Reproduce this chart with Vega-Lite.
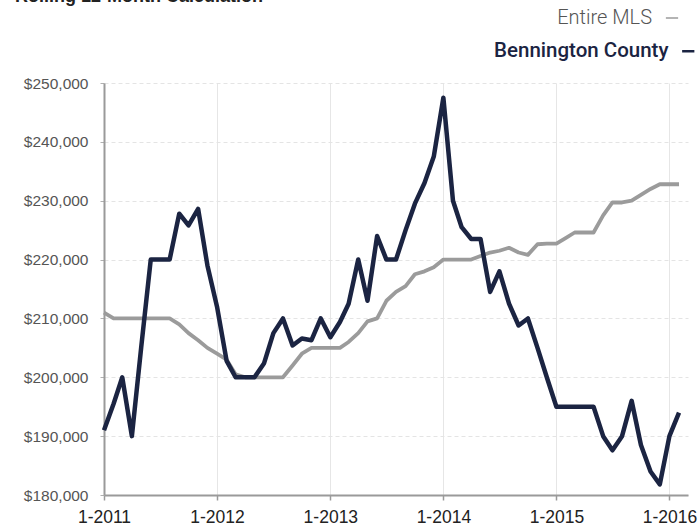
{
  "$schema": "https://vega.github.io/schema/vega-lite/v6.json",
  "width": 584,
  "height": 412,
  "autosize": {"type": "none"},
  "padding": {"left": 104, "top": 83, "right": 11, "bottom": 34},
  "background": "white",
  "title": {"text": "Rolling 12-Month Calculation", "anchor": "start", "frame": "group", "offset": 2, "dx": -89, "fontSize": 18, "fontWeight": "bold", "font": "Liberation Sans", "color": "#222"},
  "config": {"view": {"stroke": null}, "font": "Liberation Sans", "legend": {"padding": 0}},
  "data": {"values": [
    {"date": "2011/01/01", "series": "Entire MLS", "value": 211000},
    {"date": "2011/02/01", "series": "Entire MLS", "value": 210000},
    {"date": "2011/03/01", "series": "Entire MLS", "value": 210000},
    {"date": "2011/04/01", "series": "Entire MLS", "value": 210000},
    {"date": "2011/05/01", "series": "Entire MLS", "value": 210000},
    {"date": "2011/06/01", "series": "Entire MLS", "value": 210000},
    {"date": "2011/07/01", "series": "Entire MLS", "value": 210000},
    {"date": "2011/08/01", "series": "Entire MLS", "value": 210000},
    {"date": "2011/09/01", "series": "Entire MLS", "value": 209000},
    {"date": "2011/10/01", "series": "Entire MLS", "value": 207500},
    {"date": "2011/11/01", "series": "Entire MLS", "value": 206300},
    {"date": "2011/12/01", "series": "Entire MLS", "value": 205000},
    {"date": "2012/01/01", "series": "Entire MLS", "value": 204000},
    {"date": "2012/02/01", "series": "Entire MLS", "value": 203000},
    {"date": "2012/03/01", "series": "Entire MLS", "value": 200500},
    {"date": "2012/04/01", "series": "Entire MLS", "value": 200000},
    {"date": "2012/05/01", "series": "Entire MLS", "value": 200000},
    {"date": "2012/06/01", "series": "Entire MLS", "value": 200000},
    {"date": "2012/07/01", "series": "Entire MLS", "value": 200000},
    {"date": "2012/08/01", "series": "Entire MLS", "value": 200000},
    {"date": "2012/09/01", "series": "Entire MLS", "value": 202000},
    {"date": "2012/10/01", "series": "Entire MLS", "value": 204000},
    {"date": "2012/11/01", "series": "Entire MLS", "value": 205000},
    {"date": "2012/12/01", "series": "Entire MLS", "value": 205000},
    {"date": "2013/01/01", "series": "Entire MLS", "value": 205000},
    {"date": "2013/02/01", "series": "Entire MLS", "value": 205000},
    {"date": "2013/03/01", "series": "Entire MLS", "value": 206000},
    {"date": "2013/04/01", "series": "Entire MLS", "value": 207500},
    {"date": "2013/05/01", "series": "Entire MLS", "value": 209500},
    {"date": "2013/06/01", "series": "Entire MLS", "value": 210000},
    {"date": "2013/07/01", "series": "Entire MLS", "value": 213000},
    {"date": "2013/08/01", "series": "Entire MLS", "value": 214500},
    {"date": "2013/09/01", "series": "Entire MLS", "value": 215500},
    {"date": "2013/10/01", "series": "Entire MLS", "value": 217500},
    {"date": "2013/11/01", "series": "Entire MLS", "value": 218000},
    {"date": "2013/12/01", "series": "Entire MLS", "value": 218700},
    {"date": "2014/01/01", "series": "Entire MLS", "value": 220000},
    {"date": "2014/02/01", "series": "Entire MLS", "value": 220000},
    {"date": "2014/03/01", "series": "Entire MLS", "value": 220000},
    {"date": "2014/04/01", "series": "Entire MLS", "value": 220000},
    {"date": "2014/05/01", "series": "Entire MLS", "value": 220600},
    {"date": "2014/06/01", "series": "Entire MLS", "value": 221200},
    {"date": "2014/07/01", "series": "Entire MLS", "value": 221500},
    {"date": "2014/08/01", "series": "Entire MLS", "value": 222000},
    {"date": "2014/09/01", "series": "Entire MLS", "value": 221200},
    {"date": "2014/10/01", "series": "Entire MLS", "value": 220800},
    {"date": "2014/11/01", "series": "Entire MLS", "value": 222600},
    {"date": "2014/12/01", "series": "Entire MLS", "value": 222700},
    {"date": "2015/01/01", "series": "Entire MLS", "value": 222700},
    {"date": "2015/02/01", "series": "Entire MLS", "value": 223700},
    {"date": "2015/03/01", "series": "Entire MLS", "value": 224600},
    {"date": "2015/04/01", "series": "Entire MLS", "value": 224600},
    {"date": "2015/05/01", "series": "Entire MLS", "value": 224600},
    {"date": "2015/06/01", "series": "Entire MLS", "value": 227500},
    {"date": "2015/07/01", "series": "Entire MLS", "value": 229700},
    {"date": "2015/08/01", "series": "Entire MLS", "value": 229700},
    {"date": "2015/09/01", "series": "Entire MLS", "value": 230000},
    {"date": "2015/10/01", "series": "Entire MLS", "value": 231000},
    {"date": "2015/11/01", "series": "Entire MLS", "value": 232000},
    {"date": "2015/12/01", "series": "Entire MLS", "value": 232800},
    {"date": "2016/01/01", "series": "Entire MLS", "value": 232800},
    {"date": "2016/02/01", "series": "Entire MLS", "value": 232800},
    {"date": "2011/01/01", "series": "Bennington County", "value": 191000},
    {"date": "2011/02/01", "series": "Bennington County", "value": 195500},
    {"date": "2011/03/01", "series": "Bennington County", "value": 200000},
    {"date": "2011/04/01", "series": "Bennington County", "value": 190000},
    {"date": "2011/05/01", "series": "Bennington County", "value": 205000},
    {"date": "2011/06/01", "series": "Bennington County", "value": 220000},
    {"date": "2011/07/01", "series": "Bennington County", "value": 220000},
    {"date": "2011/08/01", "series": "Bennington County", "value": 220000},
    {"date": "2011/09/01", "series": "Bennington County", "value": 227800},
    {"date": "2011/10/01", "series": "Bennington County", "value": 225800},
    {"date": "2011/11/01", "series": "Bennington County", "value": 228600},
    {"date": "2011/12/01", "series": "Bennington County", "value": 219000},
    {"date": "2012/01/01", "series": "Bennington County", "value": 212000},
    {"date": "2012/02/01", "series": "Bennington County", "value": 202800},
    {"date": "2012/03/01", "series": "Bennington County", "value": 200000},
    {"date": "2012/04/01", "series": "Bennington County", "value": 200000},
    {"date": "2012/05/01", "series": "Bennington County", "value": 200000},
    {"date": "2012/06/01", "series": "Bennington County", "value": 202400},
    {"date": "2012/07/01", "series": "Bennington County", "value": 207500},
    {"date": "2012/08/01", "series": "Bennington County", "value": 210000},
    {"date": "2012/09/01", "series": "Bennington County", "value": 205400},
    {"date": "2012/10/01", "series": "Bennington County", "value": 206600},
    {"date": "2012/11/01", "series": "Bennington County", "value": 206300},
    {"date": "2012/12/01", "series": "Bennington County", "value": 210000},
    {"date": "2013/01/01", "series": "Bennington County", "value": 206800},
    {"date": "2013/02/01", "series": "Bennington County", "value": 209400},
    {"date": "2013/03/01", "series": "Bennington County", "value": 212500},
    {"date": "2013/04/01", "series": "Bennington County", "value": 220000},
    {"date": "2013/05/01", "series": "Bennington County", "value": 213000},
    {"date": "2013/06/01", "series": "Bennington County", "value": 224000},
    {"date": "2013/07/01", "series": "Bennington County", "value": 220000},
    {"date": "2013/08/01", "series": "Bennington County", "value": 220000},
    {"date": "2013/09/01", "series": "Bennington County", "value": 225000},
    {"date": "2013/10/01", "series": "Bennington County", "value": 229500},
    {"date": "2013/11/01", "series": "Bennington County", "value": 233000},
    {"date": "2013/12/01", "series": "Bennington County", "value": 237500},
    {"date": "2014/01/01", "series": "Bennington County", "value": 247500},
    {"date": "2014/02/01", "series": "Bennington County", "value": 230000},
    {"date": "2014/03/01", "series": "Bennington County", "value": 225500},
    {"date": "2014/04/01", "series": "Bennington County", "value": 223500},
    {"date": "2014/05/01", "series": "Bennington County", "value": 223500},
    {"date": "2014/06/01", "series": "Bennington County", "value": 214500},
    {"date": "2014/07/01", "series": "Bennington County", "value": 218000},
    {"date": "2014/08/01", "series": "Bennington County", "value": 212500},
    {"date": "2014/09/01", "series": "Bennington County", "value": 208800},
    {"date": "2014/10/01", "series": "Bennington County", "value": 210000},
    {"date": "2014/11/01", "series": "Bennington County", "value": 205000},
    {"date": "2014/12/01", "series": "Bennington County", "value": 200000},
    {"date": "2015/01/01", "series": "Bennington County", "value": 195000},
    {"date": "2015/02/01", "series": "Bennington County", "value": 195000},
    {"date": "2015/03/01", "series": "Bennington County", "value": 195000},
    {"date": "2015/04/01", "series": "Bennington County", "value": 195000},
    {"date": "2015/05/01", "series": "Bennington County", "value": 195000},
    {"date": "2015/06/01", "series": "Bennington County", "value": 190000},
    {"date": "2015/07/01", "series": "Bennington County", "value": 187600},
    {"date": "2015/08/01", "series": "Bennington County", "value": 190000},
    {"date": "2015/09/01", "series": "Bennington County", "value": 196000},
    {"date": "2015/10/01", "series": "Bennington County", "value": 188500},
    {"date": "2015/11/01", "series": "Bennington County", "value": 184000},
    {"date": "2015/12/01", "series": "Bennington County", "value": 181800},
    {"date": "2016/01/01", "series": "Bennington County", "value": 190000},
    {"date": "2016/02/01", "series": "Bennington County", "value": 194000}
  ]},
  "layer": [
    {
      "transform": [{"filter": "datum.series === 'Entire MLS'"}],
      "mark": {"type": "line", "strokeWidth": 3.8, "strokeJoin": "round"},
      "encoding": {
        "x": {"field": "date", "type": "temporal",
          "scale": {"domain": [{"year": 2011, "month": 1, "date": 1}, {"year": 2016, "month": 3, "date": 1}]},
          "axis": {"title": null, "format": "%-m-%Y", "tickCount": {"interval": "year", "step": 1},
            "labelFlush": false, "labelOverlap": false,
            "grid": true, "gridColor": "#e6e6e6", "gridWidth": 1,
            "domainColor": "#9a9a9a", "domainWidth": 2, "tickColor": "#9a9a9a", "tickSize": 5, "tickWidth": 1.5,
            "labelFontSize": 17.5, "labelColor": "#222", "labelPadding": 8, "labelFont": "Liberation Sans"}},
        "y": {"field": "value", "type": "quantitative",
          "scale": {"domain": [180000, 250000], "nice": false, "zero": false},
          "axis": {"title": null, "values": [180000, 190000, 200000, 210000, 220000, 230000, 240000, 250000],
            "format": "$,.0f", "grid": true, "gridColor": "#e4e4e4", "gridDash": [4, 3],
            "domainColor": "#9a9a9a", "domainWidth": 2, "tickColor": "#b0b0b0", "tickSize": 4,
            "labelFontSize": 15.5, "labelColor": "#555", "labelPadding": 12, "labelFont": "Liberation Sans"}},
        "color": {"field": "series", "type": "nominal",
          "scale": {"domain": ["Entire MLS"], "range": ["#9b9b9b"]},
          "legend": {"title": null, "orient": "none", "legendX": 558, "legendY": -75,
            "symbolType": "stroke", "symbolStrokeWidth": 1.5, "symbolSize": 150,
            "labelFontSize": 20, "labelColor": "#555", "labelFont": "Roboto", "labelFontWeight": 300,
            "labelAlign": "right", "labelOffset": -30, "labelLimit": 400}}
      }
    },
    {
      "transform": [{"filter": "datum.series === 'Bennington County'"}],
      "mark": {"type": "line", "strokeWidth": 4.5, "strokeJoin": "round"},
      "encoding": {
        "x": {"field": "date", "type": "temporal"},
        "y": {"field": "value", "type": "quantitative"},
        "stroke": {"field": "series", "type": "nominal",
          "scale": {"domain": ["Bennington County"], "range": ["#1b2442"]},
          "legend": {"title": null, "orient": "none", "legendX": 574, "legendY": -42,
            "symbolType": "stroke", "symbolStrokeWidth": 2.5, "symbolSize": 150,
            "labelFontSize": 20.5, "labelColor": "#1b2442", "labelFont": "Roboto", "labelFontWeight": 500,
            "labelAlign": "right", "labelOffset": -30, "labelLimit": 400}}
      }
    }
  ]
}
